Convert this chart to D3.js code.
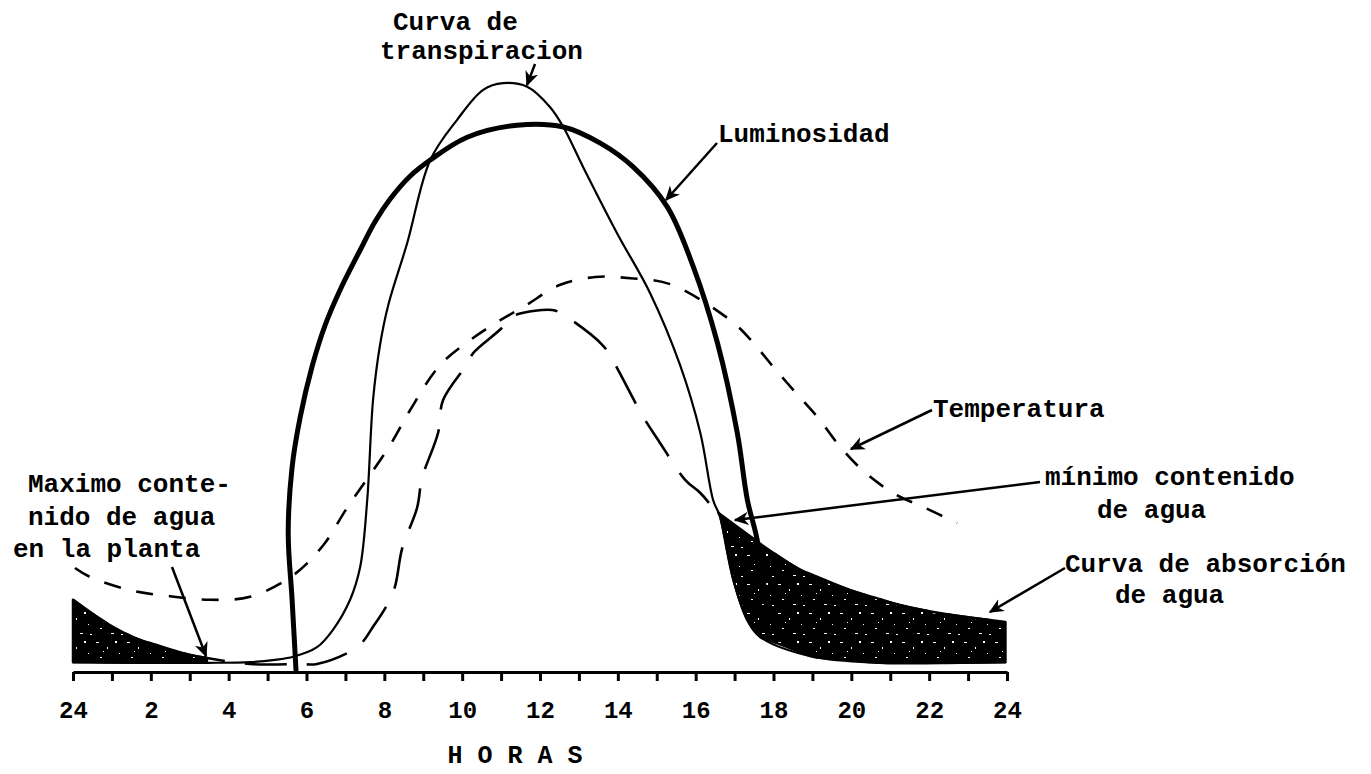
<!DOCTYPE html>
<html><head><meta charset="utf-8">
<script src="https://cdn.jsdelivr.net/npm/d3@7"></script>
<style>
html,body{margin:0;padding:0;background:#fff;}
svg{display:block;}
text{font-family:"Liberation Mono","DejaVu Sans Mono",monospace;font-weight:bold;fill:#000;}
</style>
</head><body>
<svg id="chart" width="1371" height="774"></svg>
<script>
// ---- data (hours of the day, relative intensity 0-100) ----
const tickHours = [0,1,2,3,4,5,6,7,8,9,10,11,12,13,14,15,16,17,18,19,20,21,22,23,24];
const labelHours = [0,2,4,6,8,10,12,14,16,18,20,22,24];
const tickLabels = ["24","2","4","6","8","10","12","14","16","18","20","22","24"];
const axisTitle = "H O R A S";

const luminosityHours  = [5.73,5.63,5.53,5.63,5.84,6.14,6.48,6.86,7.38,7.76,8.15,8.66,9.18,10.13,11.41,12.6,13.55,14.4,15.27,15.94,16.56,17.07,17.33,17.58,17.85];
const luminosityValues = [-1,10.7,21.8,32.8,41.2,49.5,56.5,62.3,69,73.7,77.5,81.3,84,87.8,89.8,89.5,86.8,82.8,76.2,66.2,53.5,38.5,27.3,20.7,8];

const transpirationHours  = [0,1.98,3.44,4.55,5.19,5.66,6.27,6.68,7.12,7.38,7.56,7.71,7.89,8.1,8.59,9.18,9.87,10.54,11.05,11.67,12.26,12.6,13.11,13.98,14.83,15.6,16.12,16.45,16.63,16.97,17.33,17.66,19.02,20.75,22.8,23.96];
const transpirationValues = [0.3,0.2,0.2,0.3,0.7,1.2,2.8,5.7,10.7,16.2,27.3,44,53.2,59.8,70.2,84,90.7,95.7,96.8,96.2,92.8,89.5,82.8,71.8,61.8,49.8,38.5,27.3,24.5,14,7.3,4.5,1.2,0.2,0.2,0.3];

const absorptionHours  = [0,0.87,1.72,3.01,3.44,4.55,5.84,6.27,7.3,7.71,8.23,8.46,8.84,8.97,9.38,9.51,10.15,10.28,11.05,11.23,12.31,12.6,13.6,13.86,14.65,15.04,15.73,16.12,16.58,17.71,18.69,19.97,21.26,22.54,23.96];
const absorptionValues = [10.7,6.8,4,1.5,1,0,0,0,2.8,6.2,12,19.3,26,31,38.5,44,50.2,51.8,56.2,57.8,59,58.2,53.2,50.7,41.2,37.3,30.7,28.5,25.2,19.8,15.7,12.3,9.8,8.2,7];

const temperatureHours  = [0.05,0.44,1.47,2.49,3.52,4.55,5.66,6.43,7.04,8.15,8.66,9.43,10.21,10.98,11.62,12.52,13.42,14.32,15.35,16.89,17.46,17.97,18.56,19.15,19.74,20.39,21.13,21.9,22.72];
const temperatureValues = [16,14.5,12.3,11.3,10.7,11.2,14.8,19.8,26,36.5,42.3,49.8,54,57.3,59.7,63.2,64.5,64.3,63.3,57.3,53.7,49.7,45.3,41,36,31.7,28.3,26,23.5];

// water-deficit shaded periods (hour ranges)
const deficitPeriods = [[0,3.44],[16.58,23.96]];

const annotationLines = {
  transp: ["Curva de","transpiracion"],
  lum: ["Luminosidad"],
  temp: ["Temperatura"],
  minimo: ["mínimo contenido","de agua"],
  absor: ["Curva de absorción","de agua"],
  maximo: ["Maximo conte-","nido de agua","en la planta"]
};

// ---- drawing ----
const svg = d3.select("#chart");
const x = d3.scaleLinear().domain([0,24]).range([73,1007]);
const y = d3.scaleLinear().domain([0,100]).range([664,64]);

const defs = svg.append("defs");
const pat = defs.append("pattern").attr("id","speck").attr("patternUnits","userSpaceOnUse")
  .attr("width",31).attr("height",29);
pat.append("rect").attr("width",31).attr("height",29).attr("fill","#000");
[[3,4,3,1],[14,9,1,2],[7,19,2,1],[22,3,2,2],[26,15,1,1],[18,24,3,1],[10,13,1,1],[28,25,2,1]].forEach(r=>{
  pat.append("rect").attr("x",r[0]).attr("y",r[1]).attr("width",r[2]).attr("height",r[3]).attr("fill","#fff");
});
defs.append("marker").attr("id","arrow").attr("viewBox","0 0 10 10")
  .attr("refX",9).attr("refY",5).attr("markerWidth",15).attr("markerHeight",15)
  .attr("markerUnits","userSpaceOnUse").attr("orient","auto")
  .append("path").attr("d","M0,0.5 L10,5 L0,9.5 L3,5 Z").attr("fill","#000");

const zip = (hs, vs) => hs.map((h,i)=>({h, v: vs[i]}));
const lum = zip(luminosityHours, luminosityValues);
const tra = zip(transpirationHours, transpirationValues);
const abs = zip(absorptionHours, absorptionValues);
const tem = zip(temperatureHours, temperatureValues);

const line = d3.line().x(d=>x(d.h)).y(d=>y(d.v)).curve(d3.curveCatmullRom.alpha(0.5));

// shaded areas between absorption (top) and transpiration (bottom)
const interp = arr => h => { const i = d3.bisector(d=>d.h).left(arr, h); if (i<=0) return arr[0].v; if (i>=arr.length) return arr[arr.length-1].v; const a=arr[i-1], b=arr[i]; return a.v + (b.v-a.v)*(h-a.h)/(b.h-a.h); };
const absInterp = interp(abs), traInterp = interp(tra);
const area = d3.area().x(d=>x(d.h)).y0(d=>y(d.lo)).y1(d=>y(d.hi)).curve(d3.curveCatmullRom.alpha(0.5));
deficitPeriods.forEach(([h0,h1])=>{
  const hs = Array.from(new Set([h0, ...abs.map(d=>d.h).filter(h=>h>h0&&h<h1), ...tra.map(d=>d.h).filter(h=>h>h0&&h<h1), h1])).sort((a,b)=>a-b);
  const pts = hs.map(h=>({h, hi: absInterp(h), lo: traInterp(h)}));
  svg.append("path").datum(pts).attr("d",area).attr("fill","url(#speck)")
    .attr("stroke","#000").attr("stroke-width",2.5).attr("stroke-linejoin","round");
});

svg.append("path").datum(tem).attr("d",line).attr("fill","none").attr("stroke","#000")
  .attr("stroke-width",2.6).attr("stroke-dasharray","17 16");
svg.append("path").datum(abs).attr("d",line).attr("fill","none").attr("stroke","#000")
  .attr("stroke-width",2.6).attr("stroke-dasharray","42 20");
svg.append("path").datum(tra).attr("d",line).attr("fill","none").attr("stroke","#000")
  .attr("stroke-width",2.2);
svg.append("path").datum(lum).attr("d",line).attr("fill","none").attr("stroke","#000")
  .attr("stroke-width",5).attr("stroke-linecap","round");

// axis
const axis = d3.axisBottom(x).tickValues(tickHours).tickSize(9).tickSizeOuter(0).tickPadding(20)
  .tickFormat(h => { const i = labelHours.indexOf(h); return i>=0 ? tickLabels[i] : ""; });
const gAxis = svg.append("g").attr("transform","translate(0,672)").call(axis);
gAxis.select(".domain").attr("stroke","#000").attr("stroke-width",3);
gAxis.selectAll(".tick line").attr("stroke","#000").attr("stroke-width",3);
gAxis.selectAll(".tick text").attr("font-size",24).attr("font-family","Liberation Mono, monospace")
  .attr("font-weight","bold").attr("fill","#000");
svg.append("text").attr("x",(x(10)+x(14))/2 - 25).attr("y",763).attr("text-anchor","middle")
  .attr("font-size",25).text(axisTitle);

// annotations
function block(lines, x0, baselines){
  lines.forEach((t,i)=> svg.append("text").attr("x",x0[i]).attr("y",baselines[i]).attr("font-size",26).text(t));
}
block(annotationLines.transp, [393,380], [30,59]);
block(annotationLines.lum, [718], [142]);
block(annotationLines.temp, [933], [417]);
block(annotationLines.minimo, [1045,1097], [485,518]);
block(annotationLines.absor, [1065,1115], [572,603]);
block(annotationLines.maximo, [28,28,13], [492,525,557]);

const arrows = [[535,64,527,85],[717,143,666,200],[932,410,851,449],[1040,482,735,520],[1065,568,990,612],[172,567,206,656]];
arrows.forEach(a=> svg.append("line").attr("x1",a[0]).attr("y1",a[1]).attr("x2",a[2]).attr("y2",a[3])
  .attr("stroke","#000").attr("stroke-width",2.5).attr("marker-end","url(#arrow)"));
</script>
</body></html>
